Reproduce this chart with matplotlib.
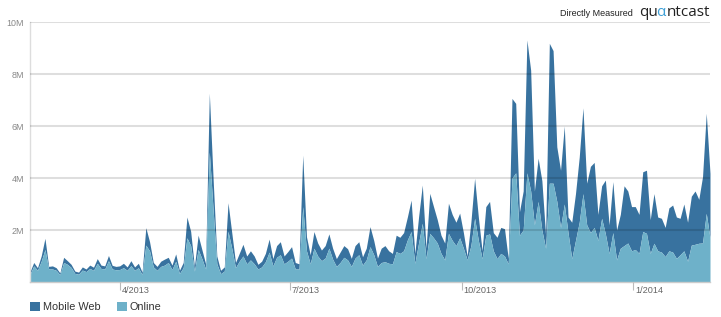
import matplotlib
matplotlib.use("Agg")
import matplotlib.pyplot as plt
import matplotlib.transforms as mtransforms
import pandas as pd

plt.rcParams['font.family'] = ['Liberation Sans', 'DejaVu Sans']

# daily reach in millions, sampled every 2 days from 2013-02-12
dates = pd.date_range('2013-02-12', periods=183, freq='2D')

total = [
    0.40, 0.75, 0.55, 1.00, 1.68, 0.60, 0.62, 0.55, 0.35, 0.95,
    0.82, 0.68, 0.42, 0.38, 0.58, 0.50, 0.65, 0.57, 0.90, 0.65,
    0.62, 1.02, 0.64, 0.60, 0.62, 0.72, 0.58, 0.82, 0.58, 0.72,
    0.38, 2.09, 1.55, 0.75, 0.60, 0.80, 0.88, 0.95, 0.65, 1.08,
    0.45, 0.75, 2.50, 1.95, 0.60, 1.80, 1.25, 0.70, 7.26, 4.00,
    1.00, 0.45, 0.58, 3.05, 1.90, 0.75, 1.10, 1.45, 1.00, 1.20,
    1.00, 0.68, 0.80, 1.10, 1.65, 0.90, 1.40, 1.55, 1.00, 1.17,
    1.36, 0.75, 0.70, 4.88, 1.74, 1.05, 1.94, 1.50, 1.23, 1.40,
    1.85, 1.30, 0.90, 1.15, 1.40, 1.28, 0.91, 1.40, 1.55, 0.97,
    1.30, 2.13, 1.60, 0.92, 1.30, 1.40, 1.20, 1.10, 1.80, 1.72,
    1.90, 2.50, 3.15, 1.10, 2.50, 3.73, 1.30, 3.41, 2.90, 2.40,
    1.80, 1.50, 3.03, 2.60, 2.30, 2.65, 1.90, 1.00, 2.30, 3.99,
    2.50, 1.20, 2.90, 3.10, 1.90, 1.72, 2.10, 2.05, 0.90, 7.06,
    6.87, 2.70, 3.50, 9.31, 8.15, 3.50, 4.76, 3.90, 1.80, 9.18,
    8.90, 5.20, 4.30, 6.00, 2.50, 2.30, 3.40, 4.80, 6.70, 3.80,
    4.45, 4.60, 2.60, 3.70, 3.92, 2.20, 3.86, 2.00, 2.60, 3.70,
    3.50, 2.90, 2.90, 2.60, 4.24, 4.30, 2.40, 3.40, 2.50, 2.45,
    2.10, 2.85, 2.96, 2.50, 2.45, 3.00, 2.30, 3.30, 3.50, 3.18,
    4.05, 6.49, 4.18]

online = [
    0.30, 0.62, 0.45, 0.80, 1.25, 0.50, 0.50, 0.45, 0.28, 0.75,
    0.68, 0.56, 0.33, 0.30, 0.46, 0.40, 0.52, 0.45, 0.72, 0.52,
    0.50, 0.82, 0.50, 0.47, 0.48, 0.55, 0.45, 0.63, 0.45, 0.55,
    0.28, 1.42, 1.20, 0.58, 0.45, 0.60, 0.65, 0.75, 0.48, 0.80,
    0.33, 0.55, 1.70, 1.40, 0.42, 1.25, 0.90, 0.50, 5.00, 2.80,
    0.70, 0.32, 0.42, 1.95, 1.30, 0.55, 0.80, 1.00, 0.70, 0.85,
    0.70, 0.50, 0.58, 0.78, 1.15, 0.62, 0.95, 1.05, 0.70, 0.80,
    0.92, 0.50, 0.50, 2.90, 1.20, 0.70, 1.30, 1.00, 0.82, 0.92,
    1.30, 0.88, 0.60, 0.75, 0.95, 0.85, 0.60, 0.92, 1.05, 0.65,
    0.85, 1.36, 1.05, 0.60, 0.75, 0.78, 0.72, 0.70, 1.17, 1.10,
    1.20, 1.62, 1.94, 0.72, 1.50, 2.26, 0.90, 1.87, 1.70, 1.50,
    1.10, 0.85, 1.87, 1.60, 1.40, 1.70, 1.30, 0.85, 1.40, 2.45,
    1.60, 0.90, 1.80, 1.85, 1.20, 0.90, 1.10, 1.00, 0.70, 4.00,
    4.20, 1.80, 2.00, 4.20, 3.50, 2.20, 3.10, 2.00, 1.30, 3.80,
    3.80, 3.10, 2.10, 3.00, 1.90, 0.90, 1.60, 2.30, 3.40, 2.20,
    1.90, 2.10, 1.60, 2.45, 1.85, 1.10, 1.90, 0.85, 1.30, 1.40,
    1.50, 1.20, 1.25, 1.10, 1.94, 1.87, 1.10, 1.49, 1.20, 1.15,
    0.98, 1.20, 1.15, 0.91, 1.05, 1.20, 0.80, 1.42, 1.45, 1.49,
    1.50, 2.64, 1.70]

series_names = ['Mobile Web', 'Online']
y_ticks = [2, 4, 6, 8, 10]
y_labels = ['2M', '4M', '6M', '8M', '10M']
x_ticks = pd.to_datetime(['2013-04-01', '2013-07-01', '2013-10-01', '2014-01-01'])
x_labels = ['4/2013', '7/2013', '10/2013', '1/2014']

dark = '#38729f'
light = '#6eb1c9'

W, H = 721, 317
fig = plt.figure(figsize=(W / 100, H / 100), dpi=100)
ax = fig.add_axes([30 / W, 35 / H, 680 / W, 260 / H])

mob = ax.fill_between(dates, online, total, color=dark, lw=0, label=series_names[0])
onl = ax.fill_between(dates, 0, online, color=light, lw=0, label=series_names[1])

ax.set_xlim(dates[0], dates[-1])
ax.set_ylim(0, 10)
ax.set_yticks(y_ticks)
ax.set_yticklabels(y_labels)
ax.set_xticks(x_ticks)
ax.set_xticklabels(x_labels, ha='left')

ax.set_axisbelow(False)
ax.grid(axis='y', color='black', alpha=0.13, lw=1.5)
ax.grid(axis='x', visible=False)

for s in ['top', 'right']:
    ax.spines[s].set_visible(False)
ax.spines['left'].set_color('#dddddd')
ax.spines['bottom'].set_color('#cccccc')
ax.spines['left'].set_linewidth(1)
ax.spines['bottom'].set_linewidth(1)

ax.tick_params(axis='y', length=0, pad=4.5, labelsize=6.4, labelcolor='#888888')
ax.tick_params(axis='x', length=6, width=0.8, color='#bbbbbb', pad=-3.2,
               labelsize=6.6, labelcolor='#666666')
offset = mtransforms.ScaledTranslation(2 / 100, 0, fig.dpi_scale_trans)
for lbl in ax.get_xticklabels():
    lbl.set_transform(lbl.get_transform() + offset)

# legend
fig.legend(handles=[mob, onl], loc='center left', bbox_to_anchor=(30 / W, 10 / H),
           ncol=2, frameon=False, fontsize=7.8, handlelength=0.92, handleheight=0.92,
           handletextpad=0.25, columnspacing=1.5, borderpad=0, borderaxespad=0,
           labelcolor='#333333')

# branding
fig.text(633 / W, 1 - 14 / H, 'Directly Measured', ha='right', va='center',
         fontsize=6.5, color='#222222')
logo_font = ['Open Sans', 'DejaVu Sans']
fig.text(639 / W, 1 - 13 / H, 'qu', ha='left', va='center', fontsize=11,
         color='#222222', family=logo_font)
fig.text(661 / W, 1 - 13 / H, 'α', ha='center', va='center', fontsize=11,
         color='#3d9fd6', family=logo_font)
fig.text(710 / W, 1 - 13 / H, 'ntcast', ha='right', va='center', fontsize=11,
         color='#222222', family=logo_font)

fig.savefig('out.png', dpi=100)
